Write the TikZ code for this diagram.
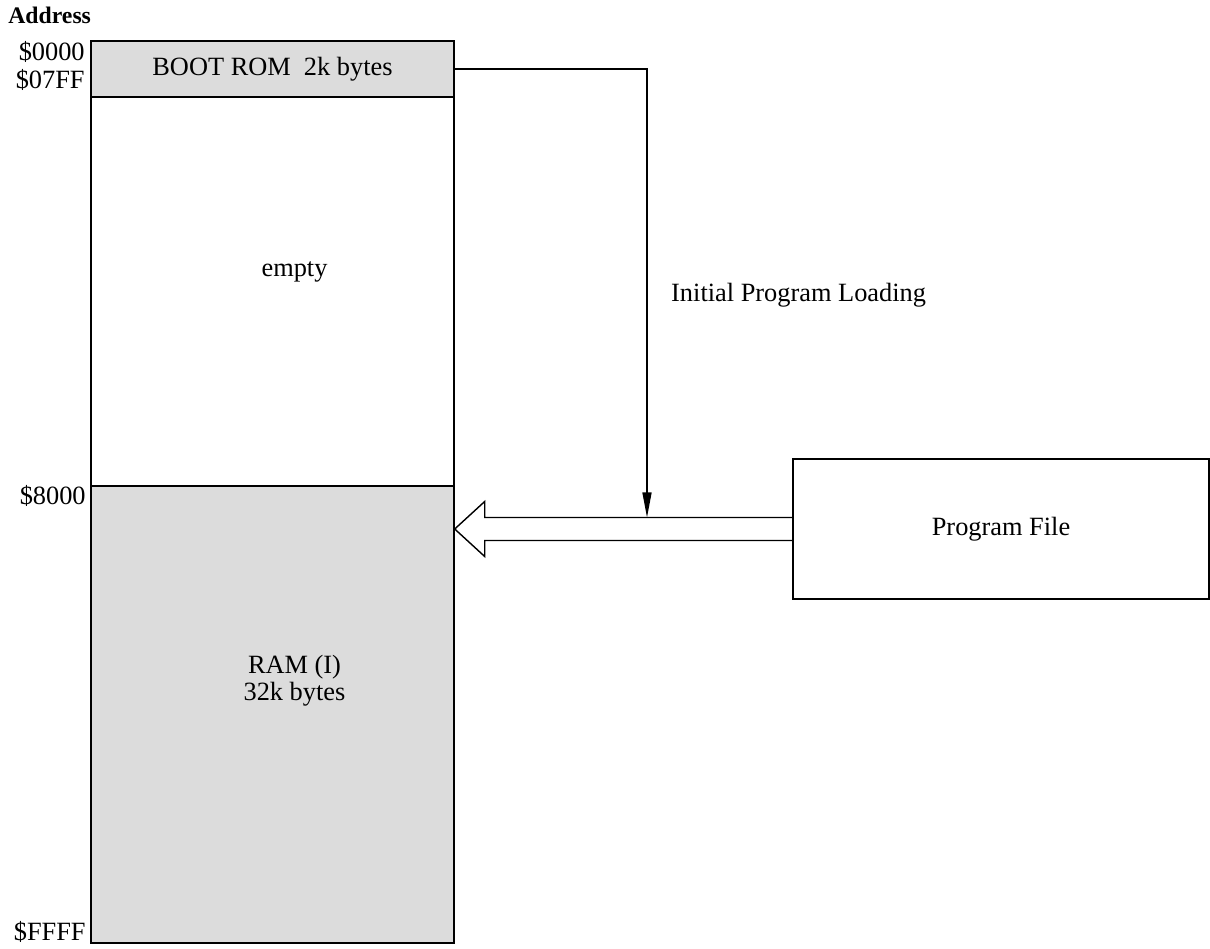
\documentclass[tikz,border=0pt]{standalone}
\usepackage{fontspec}
\setmainfont{Liberation Serif}
\usetikzlibrary{arrows.meta}
\definecolor{memGray}{RGB}{220,220,220}

\begin{document}
\begin{tikzpicture}[
    font=\fontsize{15}{15.5}\selectfont,
    mem/.style={draw, line width=0.8pt, inner sep=0pt, minimum width=7.26cm},
    addr/.style={anchor=east, inner sep=0pt},
    wire/.style={line width=0.8pt}
  ]
  \useasboundingbox (0,0) rectangle (24.2,18.96);

  % memory map
  \node[mem, fill=memGray, minimum height=1.12cm] (rom) at (5.45,17.58) {BOOT ROM \ 2k bytes};
  \node[mem, minimum height=7.78cm] (empty) at (5.45,13.13) {};
  \node[mem, fill=memGray, minimum height=9.14cm] (ram) at (5.45,4.67) {};
  \node (emptytxt) at ([xshift=4.4mm,yshift=3.9mm]empty.center) {empty};
  \node[align=center] (ramtxt) at ([xshift=4.4mm,yshift=6.7mm]ram.center) {RAM (I)\\32k bytes};

  % addresses
  \node[anchor=west, inner sep=0pt, font=\fontsize{13.5}{14}\selectfont\bfseries] (addr) at (0.16,18.66) {Address};
  \node[addr] (a0000) at (1.70,17.92) {\$0000};
  \node[addr] (a07ff) at (1.70,17.36) {\$07FF};
  \node[addr] (a8000) at (1.72,9.04) {\$8000};
  \node[addr] (affff) at (1.72,0.32) {\$FFFF};

  % program file and loading path
  \node[draw, line width=0.8pt, inner sep=0pt, minimum width=8.32cm, minimum height=2.8cm] (pf) at (20.02,8.38) {Program File};
  \coordinate (tip) at (ram.east |- pf.west);
  \coordinate (shafttop) at ([yshift=2.3mm]pf.west);
  \coordinate (bend) at (12.94,0 |- rom.east);

  \draw[wire, line join=miter] ([yshift=2.3mm]pf.west) -- ([xshift=6mm,yshift=2.3mm]tip)
    -- ([xshift=6mm,yshift=5.5mm]tip) -- (tip) -- ([xshift=6mm,yshift=-5.5mm]tip)
    -- ([xshift=6mm,yshift=-2.3mm]tip) -- ([yshift=-2.3mm]pf.west);
  \draw[wire, -{Triangle[length=5mm,width=1.8mm]}] (rom.east) -- (bend) -- (bend |- shafttop);
  \node[anchor=west] (ipl) at (13.3,13.06) {Initial Program Loading};
\end{tikzpicture}
\end{document}
